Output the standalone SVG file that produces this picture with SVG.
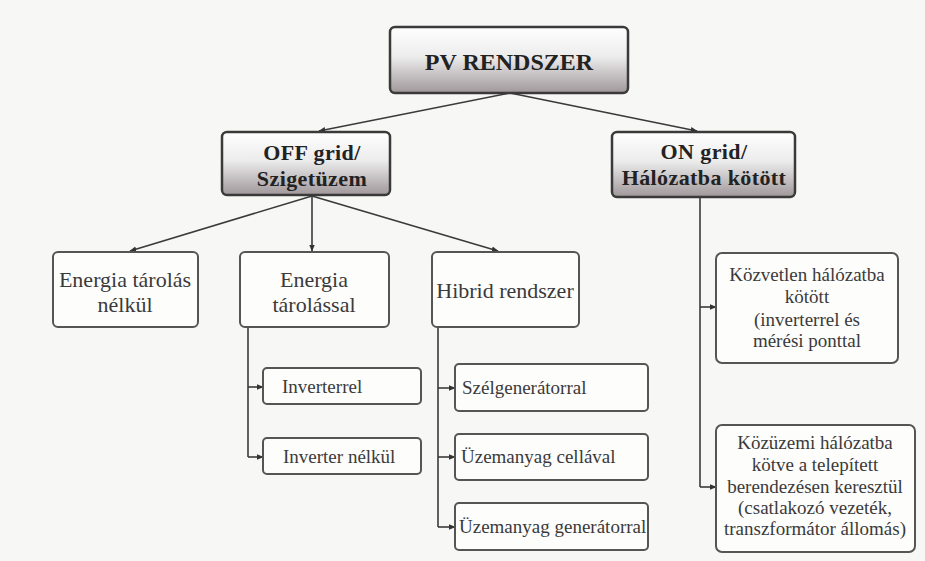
<svg xmlns="http://www.w3.org/2000/svg" width="925" height="561" viewBox="0 0 925 561">
<defs>
<linearGradient id="g" x1="0" y1="0" x2="0" y2="1">
<stop offset="0" stop-color="#ffffff"/>
<stop offset="0.45" stop-color="#ececec"/>
<stop offset="1" stop-color="#a0979a"/>
</linearGradient>
<marker id="a" viewBox="0 0 10 10" refX="9" refY="5" markerWidth="7" markerHeight="7" orient="auto-start-reverse" markerUnits="userSpaceOnUse">
<path d="M0,1 L10,5 L0,9 z" fill="#333"/>
</marker>
<style>
.bg{fill:#f7f7f5}
.top{fill:url(#g);stroke:#3a3a3a;stroke-width:2.5}
.box{fill:#fdfdfc;stroke:#555;stroke-width:2}
.tb{font-family:"Liberation Serif",serif;font-weight:bold;fill:#222;text-anchor:middle}
.h{font-size:22px;letter-spacing:0.4px}
.t{font-family:"Liberation Serif",serif;fill:#3a3a3a;text-anchor:middle;font-size:22px}
.s{font-family:"Liberation Serif",serif;fill:#3a3a3a;font-size:19px}
.c{fill:none;stroke:#3a3a3a;stroke-width:1.6;marker-end:url(#a)}
.l{fill:none;stroke:#3a3a3a;stroke-width:1.6}
</style>
</defs>
<rect class="bg" x="0" y="0" width="925" height="561"/>
<g id="connectors">
<path class="c" d="M510,93 L319,131"/>
<path class="c" d="M510,93 L697,131"/>
<path class="c" d="M312,196 L130,251"/>
<path class="c" d="M312,196 L312,251"/>
<path class="c" d="M312,196 L498,251"/>
<path class="l" d="M248,327 L248,457"/>
<path class="c" d="M248,387 L263,387"/>
<path class="c" d="M248,457 L263,457"/>
<path class="l" d="M438,327 L438,527"/>
<path class="c" d="M438,388 L455,388"/>
<path class="c" d="M438,457 L455,457"/>
<path class="c" d="M438,527 L455,527"/>
<path class="l" d="M700,197 L700,487"/>
<path class="c" d="M700,307 L716,307"/>
<path class="c" d="M700,487 L716,487"/>
</g>
<g id="pv">
<rect class="top" x="390" y="27" width="238" height="66" rx="5"/>
<text class="tb" x="509" y="70" font-size="24">PV RENDSZER</text>
</g>
<g id="off">
<rect class="top" x="222" y="132" width="168" height="63" rx="5"/>
<text class="tb h" x="312" y="160">OFF grid/</text>
<text class="tb h" x="312" y="186">Szigetüzem</text>
</g>
<g id="on">
<rect class="top" x="612" y="132" width="183" height="65" rx="5"/>
<text class="tb h" x="704" y="159">ON grid/</text>
<text class="tb h" x="704" y="185">Hálózatba kötött</text>
</g>
<g id="n1">
<rect class="box" x="53" y="252" width="145" height="75" rx="5"/>
<text class="t" x="125" y="287">Energia tárolás</text>
<text class="t" x="125" y="312">nélkül</text>
</g>
<g id="n2">
<rect class="box" x="240" y="252" width="149" height="75" rx="5"/>
<text class="t" x="314" y="287">Energia</text>
<text class="t" x="314" y="312">tárolással</text>
</g>
<g id="n3">
<rect class="box" x="432" y="252" width="147" height="75" rx="5"/>
<text class="t" x="505" y="298">Hibrid rendszer</text>
</g>
<g id="n4">
<rect class="box" x="263" y="368" width="158" height="36" rx="4"/>
<text class="s" x="282" y="393">Inverterrel</text>
</g>
<g id="n5">
<rect class="box" x="263" y="438" width="158" height="36" rx="4"/>
<text class="s" x="283" y="463">Inverter nélkül</text>
</g>
<g id="n6">
<rect class="box" x="455" y="364" width="193" height="47" rx="4"/>
<text class="s" x="462" y="394">Szélgenerátorral</text>
</g>
<g id="n7">
<rect class="box" x="455" y="434" width="193" height="46" rx="4"/>
<text class="s" x="461" y="463">Üzemanyag cellával</text>
</g>
<g id="n8">
<rect class="box" x="455" y="503" width="193" height="47" rx="4"/>
<text class="s" x="459" y="533">Üzemanyag generátorral</text>
</g>
<g id="n9">
<rect class="box" x="716" y="253" width="182" height="110" rx="6"/>
<text class="s" x="807" y="281" text-anchor="middle">Közvetlen hálózatba</text>
<text class="s" x="807" y="303" text-anchor="middle">kötött</text>
<text class="s" x="807" y="326" text-anchor="middle">(inverterrel és</text>
<text class="s" x="807" y="347" text-anchor="middle">mérési ponttal</text>
</g>
<g id="n10">
<rect class="box" x="716" y="425" width="199" height="127" rx="6"/>
<text class="s" x="815" y="449" text-anchor="middle">Közüzemi hálózatba</text>
<text class="s" x="815" y="471" text-anchor="middle">kötve a telepített</text>
<text class="s" x="815" y="493" text-anchor="middle">berendezésen keresztül</text>
<text class="s" x="815" y="514" text-anchor="middle">(csatlakozó vezeték,</text>
<text class="s" x="815" y="535" text-anchor="middle">transzformátor állomás)</text>
</g>
</svg>
